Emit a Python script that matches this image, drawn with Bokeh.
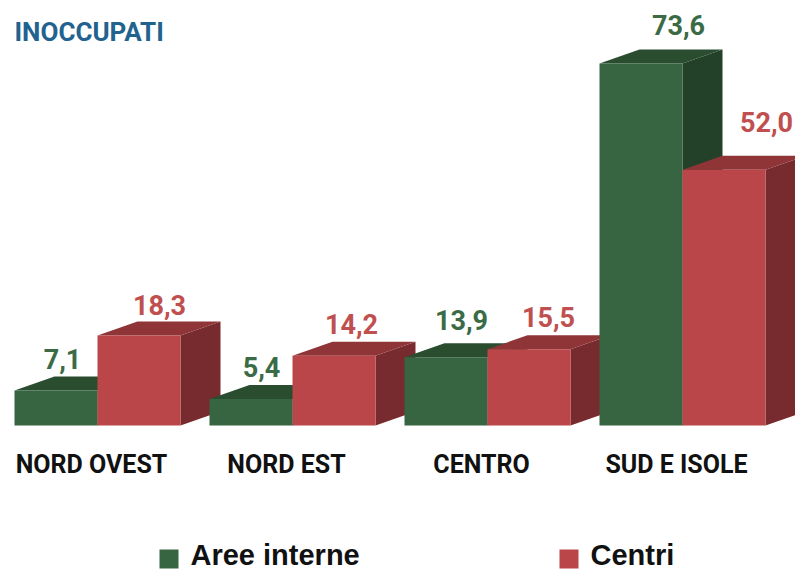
from bokeh.plotting import figure
from bokeh.models import Range1d
from bokeh.core.properties import value
from bokeh.embed import file_html
from bokeh.resources import INLINE

# ---- data ----
regions = ["NORD OVEST", "NORD EST", "CENTRO", "SUD E ISOLE"]
aree_interne = [7.1, 5.4, 13.9, 73.6]
centri = [18.3, 14.2, 15.5, 52.0]
series_names = ["Aree interne", "Centri"]
title_text = "INOCCUPATI"

# ---- style ----
FRONT = ["#376541", "#bb4649"]
TOP = ["#2a4d30", "#8f3437"]
SIDE = ["#234029", "#772b2e"]
LABEL_COL = ["#3b6b46", "#c04f4f"]
NARROW = "Roboto"
WIDE = "Liberation Sans"

W, H = 795, 571
PX_X = 83.0          # px per bar width
PX_Y = 4.918         # px per value unit
GROUP_STEP = 195 / PX_X
DX = 40 / PX_X
DY = 14 / PX_Y
X0 = -14 / PX_X
BASE_PX = 425        # baseline in page px
TXT_UP = 10.5        # baseline correction for rendered text (px)

def sx(px):
    return X0 + px / PX_X

def sy(py):
    return (BASE_PX - py + TXT_UP) / PX_Y

def sy_mark(py):
    return (BASE_PX - py) / PX_Y

y_start = -(H - BASE_PX) / PX_Y
p = figure(width=W, height=H, output_backend="svg", toolbar_location=None,
           x_range=Range1d(X0, X0 + W / PX_X),
           y_range=Range1d(y_start, y_start + H / PX_Y),
           min_border=0)
p.axis.visible = False
p.grid.visible = False
p.outline_line_color = None
p.background_fill_color = "white"

series = [aree_interne, centri]

side_xs, side_ys, side_c = [], [], []
top_xs, top_ys, top_c = [], [], []
fl, fr, ft, fc = [], [], [], []
for i in range(len(regions)):
    for s, vals in enumerate(series):
        v = vals[i]
        left = i * GROUP_STEP + s
        right = left + 1
        side_xs.append([right, right + DX, right + DX, right])
        side_ys.append([0, DY, v + DY, v])
        side_c.append(SIDE[s])
        top_xs.append([left, left + DX, right + DX, right])
        top_ys.append([v, v + DY, v + DY, v])
        top_c.append(TOP[s])
        fl.append(left); fr.append(right); ft.append(v); fc.append(FRONT[s])

p.patches(side_xs, side_ys, fill_color=side_c, line_color=None)
p.patches(top_xs, top_ys, fill_color=top_c, line_color=None)
p.quad(left=fl, right=fr, bottom=0, top=ft, fill_color=fc, line_color=None)

# value labels (small per-label nudges in px, as in the original layout)
nudge_x = [[6.5, 10.5, 15.5, 37.5], [20.5, 17.5, 19.5, 42.5]]
nudge_y = [[21, 21, 27, 28], [20, 21, 22, 37]]
for s, vals in enumerate(series):
    xs, ys, tx = [], [], []
    for i, v in enumerate(vals):
        left = i * GROUP_STEP + s
        xs.append(left + 0.5 + nudge_x[s][i] / PX_X)
        ys.append(v + (nudge_y[s][i] + TXT_UP) / PX_Y)
        tx.append(f"{v:.1f}".replace(".", ","))
    p.text(x=xs, y=ys, text=tx, text_font=value(NARROW), text_font_style="bold",
           text_font_size=value("27px"), text_color=LABEL_COL[s],
           text_align="center", text_baseline="alphabetic")

# category labels
cx = [i * GROUP_STEP + 1 - 6 / PX_X for i in range(len(regions))]
p.text(x=cx, y=[sy(474)] * len(regions), text=regions, text_font=value(NARROW),
       text_font_style="bold", text_font_size=value("25px"), text_color="#111111",
       text_align="center", text_baseline="alphabetic")

# title
p.text(x=[sx(14)], y=[sy(42)], text=[title_text], text_font=value(NARROW),
       text_font_style="bold", text_font_size=value("26px"), text_color="#22628f",
       text_align="left", text_baseline="alphabetic")

# legend
leg_sq_px = [159, 559]
for s, name in enumerate(series_names):
    x_l = leg_sq_px[s]
    p.quad(left=[sx(x_l)], right=[sx(x_l + 19)], bottom=[sy_mark(568)], top=[sy_mark(549)],
           fill_color=FRONT[s], line_color=None)
    p.text(x=[sx(x_l + 31)], y=[sy(565)], text=[name], text_font=value(WIDE),
           text_font_style="bold", text_font_size=value("29px"), text_color="#111111",
           text_align="left", text_baseline="alphabetic")

open("out.html", "w").write(file_html(p, INLINE))
